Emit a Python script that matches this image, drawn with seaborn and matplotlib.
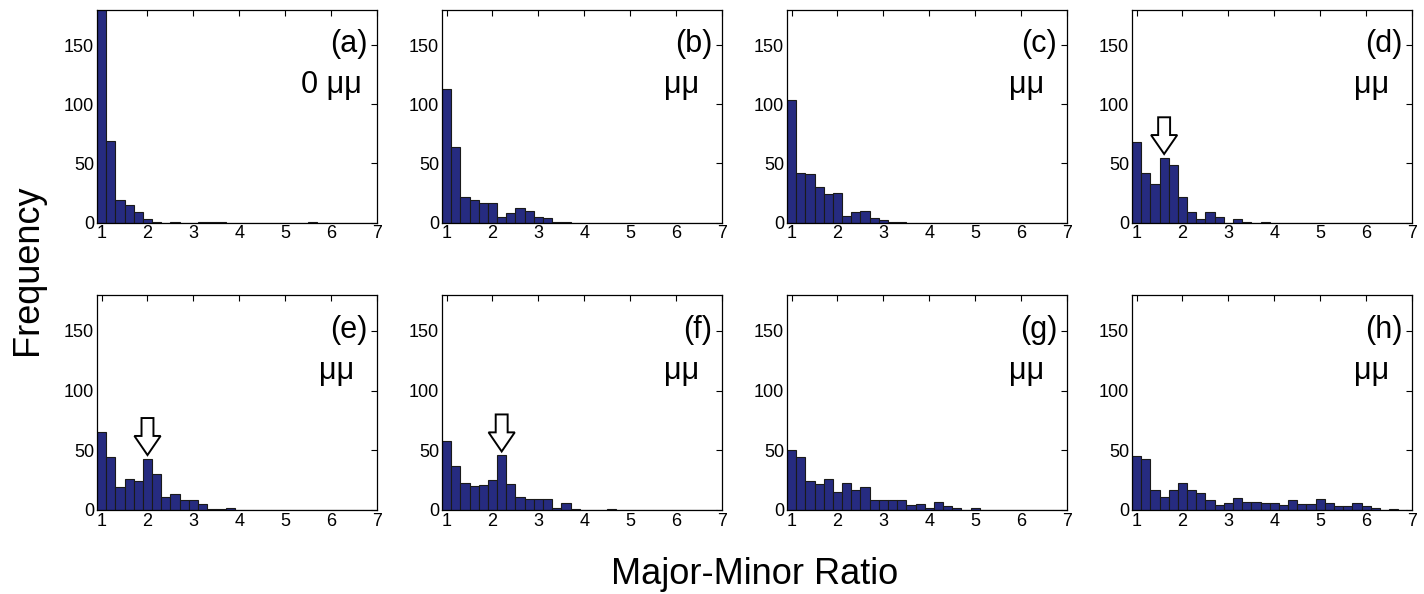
import numpy as np
import pandas as pd
import matplotlib
matplotlib.use("Agg")
import matplotlib.pyplot as plt
from matplotlib.patches import FancyArrow
import seaborn as sns

# ---------------- data ----------------
bin_centers = [1.0, 1.2, 1.4, 1.6, 1.8, 2.0, 2.2, 2.4, 2.6, 2.8,
               3.0, 3.2, 3.4, 3.6, 3.8, 4.0, 4.2, 4.4, 4.6, 4.8,
               5.0, 5.2, 5.4, 5.6, 5.8, 6.0, 6.2, 6.4, 6.6, 6.8]
bin_width = 0.2

counts_a = [195, 69, 19, 15, 9, 3, 1, 0, 1, 0, 0, 1, 1, 1, 0, 0, 0, 0, 0, 0, 0, 0, 0, 1, 0, 0, 0, 0, 0, 0]
counts_b = [113, 64, 22, 19, 17, 17, 5, 8, 12, 10, 5, 4, 1, 1, 0, 0, 0, 0, 0, 0, 0, 0, 0, 0, 0, 0, 0, 0, 0, 0]
counts_c = [104, 42, 41, 30, 24, 25, 6, 9, 10, 4, 2, 1, 1, 0, 0, 0, 0, 0, 0, 0, 0, 0, 0, 0, 0, 0, 0, 0, 0, 0]
counts_d = [68, 42, 33, 55, 49, 22, 9, 3, 9, 5, 0, 3, 1, 0, 1, 0, 0, 0, 0, 0, 0, 0, 0, 0, 0, 0, 0, 0, 0, 0]
counts_e = [65, 44, 19, 26, 24, 43, 30, 11, 13, 8, 8, 5, 1, 1, 2, 0, 0, 0, 0, 0, 0, 0, 0, 0, 0, 0, 0, 0, 0, 0]
counts_f = [58, 37, 23, 20, 21, 25, 46, 22, 11, 9, 9, 9, 2, 6, 1, 0, 0, 0, 1, 0, 0, 0, 0, 0, 0, 0, 0, 0, 0, 0]
counts_g = [50, 44, 24, 22, 26, 15, 23, 17, 19, 8, 8, 8, 8, 4, 5, 2, 7, 3, 2, 0, 2, 0, 0, 0, 0, 0, 0, 0, 0, 0]
counts_h = [45, 43, 17, 11, 17, 23, 17, 14, 8, 4, 6, 10, 7, 7, 6, 6, 4, 8, 5, 5, 9, 6, 3, 3, 6, 3, 2, 0, 1, 0]

panel_letters = ["(a)", "(b)", "(c)", "(d)", "(e)", "(f)", "(g)", "(h)"]
panel_notes = ["0 \u03bc\u03bc", "\u03bc\u03bc", "\u03bc\u03bc", "\u03bc\u03bc",
               "\u03bc\u03bc", "\u03bc\u03bc", "\u03bc\u03bc", "\u03bc\u03bc"]
all_counts = [counts_a, counts_b, counts_c, counts_d, counts_e, counts_f, counts_g, counts_h]

# arrows marking the secondary peak: panel index -> bin centre
arrow_bins = {3: 1.6, 4: 2.0, 5: 2.2}

x_ticks = [1, 2, 3, 4, 5, 6, 7]
y_ticks = [0, 50, 100, 150]
x_label = "Major-Minor Ratio"
y_label = "Frequency"

# ---------------- style ----------------
sns.set_style("white")
plt.rcParams["font.family"] = ["Liberation Sans", "DejaVu Sans"]
plt.rcParams["axes.linewidth"] = 0.9
plt.rcParams["text.color"] = "black"

bar_color = "#262B80"

fig = plt.figure(figsize=(14.24, 5.94), dpi=100)

W, H = 1424.0, 594.0
col_left = [97, 442, 787, 1132]
col_w = 280
row_top = [9.5, 295]
row_bot = [222.7, 510]

edges = [c - bin_width / 2 for c in bin_centers] + [bin_centers[-1] + bin_width / 2]

for i, counts in enumerate(all_counts):
    r, c = divmod(i, 4)
    ax = fig.add_axes([col_left[c] / W, 1 - row_bot[r] / H, col_w / W,
                       (row_bot[r] - row_top[r]) / H])
    df = pd.DataFrame({"ratio": bin_centers, "n": counts})
    sns.histplot(data=df, x="ratio", weights="n", bins=edges, ax=ax,
                 color=bar_color, alpha=1.0, edgecolor="#1a1a1a", linewidth=0.8)
    ax.set_xlim(0.9, 7.0)
    ax.set_ylim(0, 180)
    ax.set_xticks(x_ticks)
    ax.set_yticks(y_ticks)
    ax.set_xlabel("")
    ax.set_ylabel("")
    ax.tick_params(direction="in", length=4, width=0.8, top=True, right=True,
                   labelsize=13, pad=2, colors="black")
    for s in ax.spines.values():
        s.set_visible(True)
        s.set_color("black")
        s.set_linewidth(0.9)

    ax.text(0.965, 0.80, panel_letters[i], transform=ax.transAxes,
            ha="right", va="baseline", fontsize=22, color="black")
    note_x = 0.946 if i == 0 else 0.92
    ax.text(note_x, 0.61, panel_notes[i], transform=ax.transAxes,
            ha="right", va="baseline", fontsize=22, color="black")

    if i in arrow_bins:
        xb = arrow_bins[i]
        h = counts[bin_centers.index(xb)]
        tip = h + 3
        length = 31
        arr = FancyArrow(xb, tip + length, 0, -length, width=0.26,
                         head_width=0.57, head_length=16,
                         length_includes_head=True, facecolor="white",
                         edgecolor="black", linewidth=1.4, zorder=5)
        ax.add_patch(arr)

fig.text(28 / W, 1 - 270 / H, y_label, rotation=90, ha="center", va="center",
         fontsize=26, color="black")
fig.text(755 / W, 1 - 575 / H, x_label, ha="center", va="center", fontsize=26,
         color="black")

fig.savefig("out.png", dpi=100)
